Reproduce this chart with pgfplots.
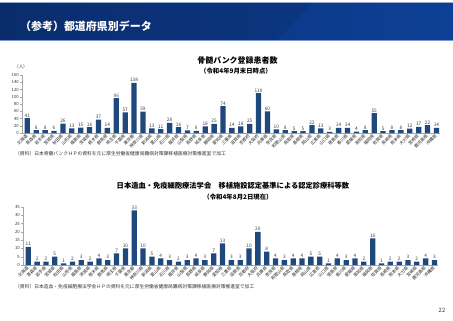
\documentclass[border=0pt]{standalone}
\usepackage{fontspec}
\setmainfont{Noto Sans CJK JP}
\usepackage{pgfplots}
\pgfplotsset{compat=1.18}
\definecolor{barblue}{RGB}{31,73,125}
\definecolor{hdrA}{RGB}{10,44,108}
\definecolor{hdrB}{RGB}{12,58,138}
\definecolor{hdrC}{RGB}{13,64,150}
\definecolor{hdrLine}{RGB}{150,170,205}
\definecolor{hdrLine2}{RGB}{120,150,210}
\pgfplotsset{
  prefbar/.style={
    scale only axis, height=58bp,
    xmin=-0.6, xmax=46.4, ymin=0,
    enlargelimits=false,
    axis x line*=bottom, axis y line*=left,
    axis line style={draw=gray!70, line width=0.4bp},
    xtick={0,...,46},
    xticklabels={北海道,青森県,岩手県,宮城県,秋田県,山形県,福島県,茨城県,栃木県,群馬県,埼玉県,千葉県,東京都,神奈川県,新潟県,富山県,石川県,福井県,山梨県,長野県,岐阜県,静岡県,愛知県,三重県,滋賀県,京都府,大阪府,兵庫県,奈良県,和歌山県,鳥取県,島根県,岡山県,広島県,山口県,徳島県,香川県,愛媛県,高知県,福岡県,佐賀県,長崎県,熊本県,大分県,宮崎県,鹿児島県,沖縄県},
    x tick label style={rotate=45, anchor=east, font=\fontsize{4.3}{5}\selectfont, inner sep=0.6bp, text=black!85},
    xtick style={draw=none},
    y tick label style={font=\fontsize{4.3}{5}\selectfont, text=black!80, inner sep=1bp},
    ytick style={draw=gray!70, line width=0.4bp},
    ytick align=outside, major tick length=2bp,
    ybar, bar width=5.3bp,
    nodes near coords,
    every node near coord/.append style={font=\fontsize{4.8}{5}\selectfont, text=black!75, inner sep=0.8bp},
    /pgf/number format/assume math mode=true,
    clip=false,
  }
}
\begin{document}
\begin{tikzpicture}
\begin{scope}[x=1bp,y=1bp]
\useasboundingbox (0,0) rectangle (453,320);
\fill[white] (0,0) rectangle (453,320);
% header band
\shade[left color=hdrA, right color=hdrB] (0,280) rectangle (453,317);
\shade[left color=hdrB, right color=hdrC] (313,317) -- (453,317) -- (453,280) -- (277,280) -- cycle;
\draw[hdrLine, line width=1bp] (0,317.5) -- (453,317.5);
\draw[hdrLine2, line width=1bp] (0,279.5) -- (453,279.5);
\node[anchor=west, text=white, font=\fontsize{11}{13}\selectfont\bfseries, inner sep=0] at (20,294) {（参考）都道府県別データ};

% chart 1 titles
\node[font=\fontsize{8}{9}\selectfont\bfseries] at (237.5,260) {骨髄バンク登録患者数};
\node[font=\fontsize{6.4}{7}\selectfont\bfseries] at (236,249) {（令和4年9月末日時点）};
\node[font=\fontsize{4.5}{5}\selectfont, text=black!80] at (21,253) {（人）};
\node[anchor=west, font=\fontsize{4.8}{5}\selectfont, text=black!80, inner sep=0] at (15,166) {（資料）日本骨髄バンクＨＰの資料を元に厚生労働省健康局難病対策課移植医療対策推進室で加工};

% chart 2 titles
\node[font=\fontsize{7.3}{8}\selectfont\bfseries] at (233,134) {日本造血・免疫細胞療法学会　移植施設認定基準による認定診療科等数};
\node[font=\fontsize{6.4}{7}\selectfont\bfseries] at (238,123) {（令和4年8月2日現在）};
\node[anchor=west, font=\fontsize{4.8}{5}\selectfont, text=black!80, inner sep=0] at (15,33) {（資料）日本造血・免疫細胞療法学会ＨＰの資料を元に厚生労働省健康局難病対策課移植医療対策推進室で加工};

\node[font=\fontsize{6}{7}\selectfont, text=black!80] at (442,10) {22};
\end{scope}

\begin{axis}[prefbar, at={(22bp,187bp)}, anchor=south west, width=418bp,
  ymax=160, ytick={0,20,...,160}]
\addplot[fill=barblue, draw=none] coordinates {
(0,41) (1,8) (2,8) (3,6) (4,26) (5,13) (6,15) (7,16) (8,37) (9,14)
(10,96) (11,57) (12,138) (13,59) (14,13) (15,11) (16,28) (17,16) (18,7) (19,6)
(20,18) (21,25) (22,74) (23,14) (24,18) (25,25) (26,110) (27,60) (28,10) (29,8)
(30,5) (31,5) (32,22) (33,13) (34,3) (35,14) (36,14) (37,4) (38,8) (39,55)
(40,5) (41,8) (42,8) (43,12) (44,17) (45,22) (46,14)
};
\end{axis}

\begin{axis}[prefbar, at={(23bp,55bp)}, anchor=south west, width=415bp,
  ymax=35, ytick={0,5,...,35}]
\addplot[fill=barblue, draw=none] coordinates {
(0,11) (1,2) (2,2) (3,5) (4,1) (5,2) (6,3) (7,2) (8,4) (9,3)
(10,7) (11,10) (12,33) (13,10) (14,5) (15,4) (16,3) (17,2) (18,3) (19,4)
(20,3) (21,7) (22,13) (23,3) (24,3) (25,10) (26,20) (27,8) (28,4) (29,3)
(30,4) (31,4) (32,5) (33,5) (34,1) (35,4) (36,3) (37,4) (38,2) (39,16)
(40,1) (41,2) (42,2) (43,3) (44,2) (45,4) (46,3)
};
\end{axis}
\end{tikzpicture}
\end{document}
